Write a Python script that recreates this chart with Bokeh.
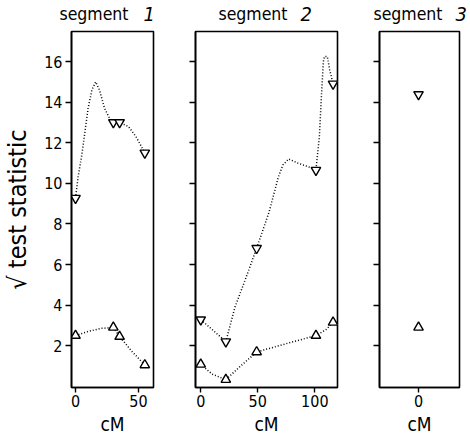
from bokeh.plotting import figure
from bokeh.layouts import row, column
from bokeh.models import FixedTicker, Range1d
from bokeh.core.properties import value
from bokeh.embed import file_html
from bokeh.resources import INLINE

FONT = "'Liberation Sans Narrow', 'DejaVu Sans Condensed', 'Liberation Sans', sans-serif"

# ---- data ----
y_ticks = [2, 4, 6, 8, 10, 12, 14, 16]

seg1_ticks = [0, 50]
seg1_down_x = [0, 30, 35, 55]
seg1_down_y = [9.27, 13.0, 13.0, 11.5]
seg1_up_x = [0, 30, 35, 55]
seg1_up_y = [2.5, 2.9, 2.45, 1.05]
seg1_down_curve_x = [0, 2, 5, 10, 13, 16, 19, 23, 27, 30, 35, 42, 48, 55]
seg1_down_curve_y = [9.27, 10.3, 11.4, 13.7, 14.6, 15.0, 14.6, 13.7, 13.2, 13.0, 13.0, 12.8, 12.3, 11.5]
seg1_up_curve_x = [0, 10, 20, 30, 35, 45, 55]
seg1_up_curve_y = [2.5, 2.7, 2.85, 2.9, 2.45, 1.7, 1.05]

seg2_ticks = [0, 50, 100]
seg2_down_x = [0, 22, 49, 101, 116]
seg2_down_y = [3.28, 2.2, 6.8, 10.65, 14.9]
seg2_up_x = [0, 22, 49, 101, 116]
seg2_up_y = [1.08, 0.33, 1.69, 2.5, 3.15]
seg2_down_curve_x = [0, 11, 22, 30, 40, 49, 60, 68, 72, 77, 85, 95, 101, 104, 106, 107.5, 108.5, 111, 113, 116]
seg2_down_curve_y = [3.28, 2.75, 2.2, 3.9, 5.4, 6.8, 8.6, 10.3, 10.9, 11.2, 11.0, 10.8, 10.65, 12.3, 14.5, 16.0, 16.25, 16.25, 15.6, 14.9]
seg2_up_curve_x = [0, 10, 22, 35, 49, 75, 101, 110, 116]
seg2_up_curve_y = [1.08, 0.6, 0.33, 1.0, 1.69, 2.1, 2.5, 2.8, 3.15]

seg3_ticks = [0]
seg3_down_x = [0]
seg3_down_y = [14.38]
seg3_up_x = [0]
seg3_up_y = [2.9]

title_word = "segment"
title_nums = ["1", "2", "3"]
x_label = "cM"
y_label = "\u221a test statistic"

# title placement (screen pixels in the title strip)
title_word_right = [128, 287, 442]
title_num_left = [143, 300, 455]
TITLE_BASELINE = 13

Y_RANGE = (-0.06, 17.48)


def make_panel(xr, ticks, down, up, curves, mbl, mbr, fw, show_ylabels):
    p = figure(x_range=xr, y_range=Y_RANGE, frame_width=fw, frame_height=356,
               min_border_left=mbl, min_border_right=mbr, min_border_top=2,
               min_border_bottom=55, output_backend="svg", toolbar_location=None,
               background_fill_color="white", border_fill_color="white")
    p.grid.visible = False
    p.outline_line_color = "black"
    p.outline_line_width = 1.6
    for ax in (p.xaxis[0], p.yaxis[0]):
        ax.axis_line_color = "black"
        ax.axis_line_width = 1.6
        ax.major_tick_line_width = 1.4
        ax.major_tick_in = 0
        ax.minor_tick_line_color = None
        ax.major_label_text_font = FONT
        ax.major_label_text_font_size = "16px"
        ax.major_label_text_color = "black"
        ax.axis_label_text_font = FONT
        ax.axis_label_text_font_style = "normal"
        ax.axis_label_text_color = "black"
    p.yaxis.major_tick_out = 6
    p.xaxis.major_tick_out = 5
    p.xaxis.ticker = FixedTicker(ticks=ticks)
    p.yaxis.ticker = FixedTicker(ticks=y_ticks)
    p.xaxis.axis_label = x_label
    p.xaxis.axis_label_text_font_size = "19px"
    p.xaxis.axis_label_standoff = 3
    p.xaxis.major_label_standoff = 2
    if show_ylabels:
        p.yaxis.axis_label = y_label
        p.yaxis.axis_label_text_font_size = "25px"
        p.yaxis.axis_label_standoff = 9
        p.yaxis.major_label_standoff = 3
    else:
        p.yaxis.major_label_overrides = {t: "" for t in y_ticks}
        p.yaxis.major_label_standoff = 0
    for cx, cy in curves:
        p.line(cx, cy, line_color="black", line_width=1.5, line_dash="1 2")
    p.scatter(down[0], down[1], marker="inverted_triangle", size=9.5, line_color="black",
              line_width=1.4, fill_color="white")
    p.scatter(up[0], up[1], marker="triangle", size=9.5, line_color="black",
              line_width=1.4, fill_color="white")
    return p


# title strip
t = figure(frame_width=470, frame_height=29, x_range=Range1d(0, 470), y_range=Range1d(29, 0),
           min_border=0, x_axis_type=None, y_axis_type=None, output_backend="svg",
           toolbar_location=None, background_fill_color="white", border_fill_color="white")
t.grid.visible = False
t.outline_line_color = None
t.text(x=title_word_right, y=[TITLE_BASELINE] * 3, text=[title_word] * 3, text_align="right",
       text_baseline="alphabetic", text_font=value(FONT), text_font_size="17.5px", text_color="black")
t.text(x=title_num_left, y=[TITLE_BASELINE] * 3, text=title_nums, text_align="left",
       text_baseline="alphabetic", text_font=value(FONT), text_font_size="20px",
       text_font_style="italic", text_color="black")

p1 = make_panel((-3.2, 61.9), seg1_ticks, (seg1_down_x, seg1_down_y), (seg1_up_x, seg1_up_y),
                [(seg1_down_curve_x, seg1_down_curve_y), (seg1_up_curve_x, seg1_up_curve_y)],
                70, 22, 82, True)
p2 = make_panel((-4.6, 119.9), seg2_ticks, (seg2_down_x, seg2_down_y), (seg2_up_x, seg2_up_y),
                [(seg2_down_curve_x, seg2_down_curve_y), (seg2_up_curve_x, seg2_up_curve_y)],
                20, 22, 142, False)
p3 = make_panel((-1.0, 1.05), seg3_ticks, (seg3_down_x, seg3_down_y), (seg3_up_x, seg3_up_y),
                [], 20, 12, 80, False)

layout = column(t, row(p1, p2, p3, spacing=0), spacing=0)
open("out.html", "w").write(file_html(layout, INLINE))
